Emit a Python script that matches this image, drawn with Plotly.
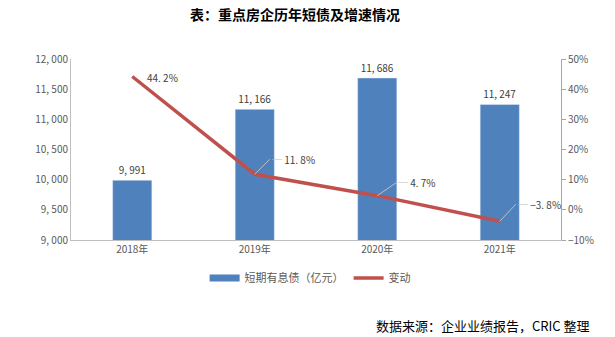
import plotly.graph_objects as go

years = ["2018年", "2019年", "2020年", "2021年"]
debt = [9991, 11166, 11686, 11247]
debt_labels = ["9, 991", "11, 166", "11, 686", "11, 247"]
change = [44.2, 11.8, 4.7, -3.8]
change_labels = ["44. 2%", "11. 8%", "4. 7%", "−3. 8%"]
left_ticks = [9000, 9500, 10000, 10500, 11000, 11500, 12000]
left_tick_text = ["9, 000", "9, 500", "10, 000", "10, 500", "11, 000", "11, 500", "12, 000"]
right_ticks = [-10, 0, 10, 20, 30, 40, 50]
right_tick_text = ["−10%", "0%", "10%", "20%", "30%", "40%", "50%"]

FONT = "Noto Sans CJK SC"
BLUE = "#4F81BD"
RED = "#C0504D"
GREY_TXT = "#595959"
LEADER = "#BFBFBF"

fig = go.Figure()
fig.add_trace(go.Bar(
    x=years, y=debt, name="短期有息债（亿元）", showlegend=False,
    marker_color=BLUE, width=0.32,
    text=debt_labels, textposition="outside", cliponaxis=False,
    textfont=dict(size=10, color="#404040", family=FONT),
))
# wide flat swatch for the bar series in the legend
fig.add_trace(go.Scatter(
    x=[None], y=[None], name="短期有息债（亿元）", mode="lines",
    line=dict(color=BLUE, width=7),
))
fig.add_trace(go.Scatter(
    x=years, y=change, name="变动", yaxis="y2", mode="lines",
    line=dict(color=RED, width=3.5),
))

# value callouts for the growth line; later points get a bent leader line
offsets = [(13, 1, False), (15, -15, True), (19, -13, True), (16, -17, True)]
for yr, v, lab, (ax, ay, leader) in zip(years, change, change_labels, offsets):
    txt = f"<span style='color:{LEADER}'>─</span> {lab}" if leader else lab
    fig.add_annotation(
        x=yr, y=v, xref="x", yref="y2", text=txt,
        showarrow=leader, arrowhead=0, arrowwidth=1, arrowcolor=LEADER,
        ax=ax, ay=ay, xanchor="left", yanchor="middle",
        xshift=0 if leader else ax, yshift=0 if leader else -ay,
        font=dict(size=10, color="#404040", family=FONT),
    )

fig.add_annotation(
    text="<b>表：重点房企历年短债及增速情况</b>", xref="paper", yref="paper",
    x=0.458, y=1.0, yshift=45, yanchor="middle", showarrow=False,
    font=dict(size=14, color="#000000", family=FONT),
)
fig.add_annotation(
    text="数据来源：企业业绩报告，CRIC 整理", xref="paper", yref="paper",
    x=1.063, y=0, yshift=-85, xanchor="right", yanchor="middle", showarrow=False,
    font=dict(size=13, color="#000000", family=FONT),
)

fig.update_layout(
    width=615, height=337,
    margin=dict(l=71, r=54, t=59, b=97),
    paper_bgcolor="white", plot_bgcolor="white",
    font=dict(family=FONT, size=10, color=GREY_TXT),
    showlegend=True,
    legend=dict(orientation="h", x=0.488, xanchor="center", y=-0.21, yanchor="middle",
                itemwidth=30, font=dict(size=11, color=GREY_TXT, family=FONT)),
    xaxis=dict(range=[-0.5, 3.5], showline=True, linecolor="#BFBFBF", linewidth=1,
               ticks="", tickfont=dict(size=10, color=GREY_TXT)),
    yaxis=dict(range=[9000, 12000], tickvals=left_ticks, ticktext=left_tick_text,
               showgrid=False, zeroline=False, showline=True, linecolor="#BFBFBF",
               linewidth=1, ticks="", tickfont=dict(size=10, color=GREY_TXT)),
    yaxis2=dict(range=[-10, 50], tickvals=right_ticks, ticktext=right_tick_text,
                overlaying="y", side="right", showgrid=False, zeroline=False,
                showline=True, linecolor="#A6A6A6", linewidth=1,
                ticks="outside", ticklen=4, tickcolor="#A6A6A6",
                tickfont=dict(size=10, color=GREY_TXT)),
)

fig.write_html("out.html")
